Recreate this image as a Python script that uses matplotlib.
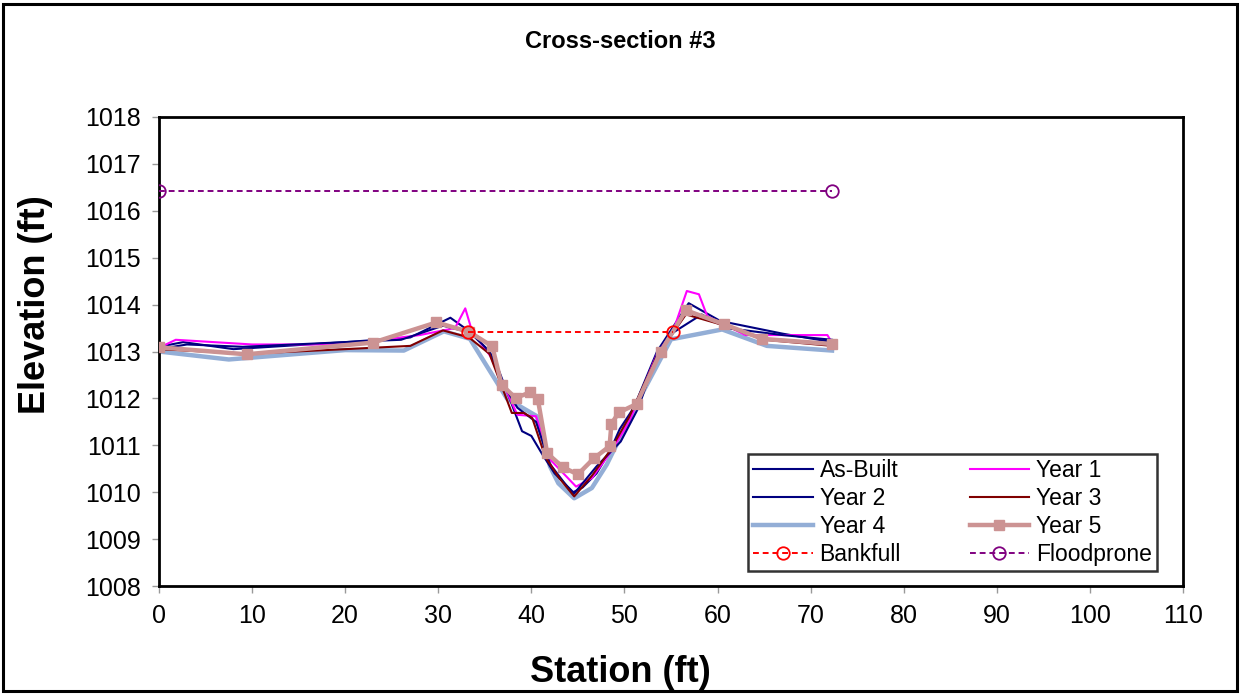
import matplotlib
matplotlib.use("Agg")
import matplotlib.pyplot as plt
from matplotlib.patches import Rectangle

plt.rcParams['font.family'] = ['Liberation Sans', 'DejaVu Sans']

# ---- data ----
asbuilt_x = [0, 2.6, 8, 20, 27, 31.3, 33.2, 35.5, 36.5, 39.0, 40.0, 41.2, 42.5, 44.5, 45.5, 47, 48.5, 49.5, 51, 53.5, 56.9, 60.3, 67, 72.3]
asbuilt_y = [1013.1, 1013.2, 1013.05, 1013.2, 1013.3, 1013.72, 1013.45, 1013.0, 1012.6, 1011.3, 1011.2, 1010.8, 1010.4, 1010.0, 1010.1, 1010.4, 1010.9, 1011.35, 1011.8, 1013.0, 1014.03, 1013.65, 1013.38, 1013.2]

year1_x = [0, 1.8, 10, 20, 28, 31.8, 32.9, 33.6, 35.6, 38.5, 40.5, 42.0, 44.8, 46.5, 48.5, 50.5, 53.5, 55.2, 56.7, 58.0, 58.9, 63, 71.8, 72.2]
year1_y = [1013.08, 1013.25, 1013.15, 1013.15, 1013.35, 1013.5, 1013.92, 1013.45, 1012.9, 1011.65, 1011.62, 1010.7, 1010.12, 1010.3, 1010.85, 1011.5, 1012.95, 1013.42, 1014.29, 1014.22, 1013.75, 1013.35, 1013.35, 1013.22]

year2_x = [0, 3, 9, 20, 26, 30.5, 33.5, 35.5, 37, 38.5, 40.5, 42, 44.5, 47.0, 49.6, 51.5, 53.5, 55.2, 58.3, 61, 67, 72.3]
year2_y = [1013.05, 1013.15, 1013.1, 1013.2, 1013.25, 1013.55, 1013.4, 1013.0, 1012.3, 1011.8, 1011.5, 1010.6, 1009.95, 1010.55, 1011.08, 1011.8, 1012.95, 1013.4, 1013.79, 1013.5, 1013.35, 1013.25]

year3_x = [0, 9.4, 20, 27, 30.5, 33.3, 35.5, 37.9, 39.2, 40.1, 41.5, 43.0, 44.6, 46.5, 48.5, 50.5, 53.5, 56.6, 60.3, 65, 72.3]
year3_y = [1013.05, 1012.95, 1013.05, 1013.12, 1013.45, 1013.3, 1012.95, 1011.69, 1011.69, 1011.58, 1010.75, 1010.3, 1009.91, 1010.35, 1010.9, 1011.6, 1012.9, 1013.79, 1013.58, 1013.25, 1013.12]

year4_x = [0, 7.5, 20, 26.3, 30.6, 33.4, 37.4, 40.6, 42.0, 42.9, 44.6, 46.5, 48.1, 51.3, 55.0, 60.5, 65.3, 72.3]
year4_y = [1013.0, 1012.83, 1013.03, 1013.02, 1013.43, 1013.27, 1011.99, 1011.62, 1010.55, 1010.19, 1009.87, 1010.09, 1010.59, 1011.88, 1013.26, 1013.47, 1013.12, 1013.02]

year5_x = [0, 9.4, 23.0, 29.8, 33.3, 35.8, 36.8, 38.3, 39.9, 40.7, 41.7, 43.4, 45.0, 46.7, 48.4, 48.6, 49.4, 51.3, 53.9, 56.6, 60.7, 64.8, 72.3]
year5_y = [1013.09, 1012.94, 1013.19, 1013.62, 1013.42, 1013.11, 1012.29, 1012.01, 1012.13, 1011.98, 1010.83, 1010.53, 1010.38, 1010.72, 1010.98, 1011.46, 1011.70, 1011.88, 1013.0, 1013.88, 1013.58, 1013.27, 1013.16]

bankfull_x = [33.2, 55.2]
bankfull_y = [1013.42, 1013.42]

floodprone_x = [0, 72.3]
floodprone_y = [1016.42, 1016.42]

xticks = list(range(0, 111, 10))
yticks = list(range(1008, 1019, 1))

# ---- figure ----
W, H = 1241, 694
fig = plt.figure(figsize=(W / 100, H / 100), dpi=100)
fig.patch.set_facecolor('white')
fig.add_artist(Rectangle((3 / W, 3 / H), 1 - 7 / W, 1 - 7 / H, transform=fig.transFigure,
                         fill=False, edgecolor='black', linewidth=2.2))

ax = fig.add_axes([159 / W, (H - 586) / H, (1183 - 159) / W, (586 - 117) / H])

h = {}
h['As-Built'], = ax.plot(asbuilt_x, asbuilt_y, color='#000080', lw=1.5, zorder=3)
h['Year 1'], = ax.plot(year1_x, year1_y, color='#FF00FF', lw=1.5, zorder=3)
h['Year 2'], = ax.plot(year2_x, year2_y, color='#000080', lw=1.5, zorder=3)
h['Year 3'], = ax.plot(year3_x, year3_y, color='#800000', lw=1.5, zorder=3)
h['Year 4'], = ax.plot(year4_x, year4_y, color='#93AED6', lw=3.2, zorder=2)
h['Year 5'], = ax.plot(year5_x, year5_y, color='#CC9393', lw=3.2, marker='s', markersize=6.5,
                       markeredgecolor='#CC9393', zorder=4)
h['Bankfull'], = ax.plot(bankfull_x, bankfull_y, color='#FF0000', lw=1.4, ls=(0, (3, 2)), marker='o',
                         markersize=9, markerfacecolor='none', markeredgecolor='#FF0000',
                         markeredgewidth=1.3, zorder=5)
h['Floodprone'], = ax.plot(floodprone_x, floodprone_y, color='#800080', lw=1.4, ls=(0, (3, 2)), marker='o',
                           markersize=9, markerfacecolor='none', markeredgecolor='#800080',
                           markeredgewidth=1.3, zorder=5)

ax.set_xlim(0, 110)
ax.set_ylim(1008, 1018)
ax.set_xticks(xticks)
ax.set_yticks(yticks)
ax.tick_params(axis='both', direction='out', length=5, width=1, color='#999999',
               labelsize=18, pad=8)
for s in ax.spines.values():
    s.set_linewidth(2)
    s.set_color('black')

fig.text(620 / W, 1 - 672 / H, 'Station (ft)', ha='center', va='center',
         fontsize=26, fontweight='bold')
fig.text(36 / W, 1 - 305 / H, 'Elevation (ft)', ha='center', va='center', rotation=90,
         fontsize=26, fontweight='bold')
fig.text(620 / W, 1 - 42 / H, 'Cross-section #3', ha='center', va='center',
         fontsize=17, fontweight='bold')

order = ['As-Built', 'Year 2', 'Year 4', 'Bankfull', 'Year 1', 'Year 3', 'Year 5', 'Floodprone']
leg = ax.legend([h[k] for k in order], order, ncol=2, loc='lower right',
                bbox_to_anchor=(1157 / W, (H - 571) / H), bbox_transform=fig.transFigure,
                fontsize=16.5, frameon=True, fancybox=False, shadow=False,
                handlelength=2.6, handletextpad=0.3, columnspacing=3.0,
                labelspacing=0.22, borderpad=0.22, borderaxespad=0)
leg.get_frame().set_edgecolor('black')
leg.get_frame().set_linewidth(1.8)
leg.set_zorder(10)

fig.savefig('out.png', dpi=100, facecolor='white')
